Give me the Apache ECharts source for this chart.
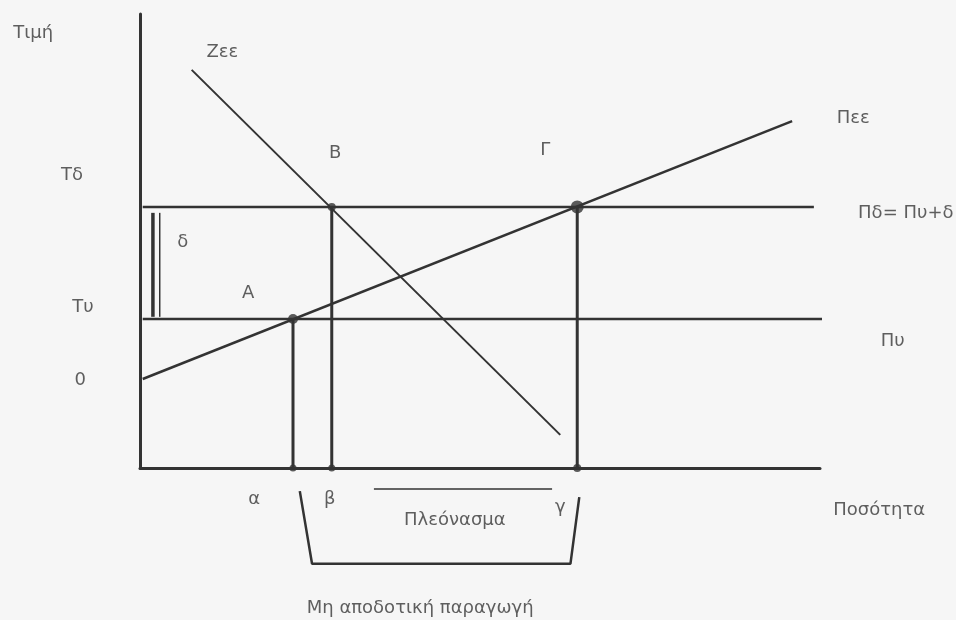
<!DOCTYPE html>
<html>
<head>
<meta charset="utf-8">
<script src="https://cdn.jsdelivr.net/npm/echarts@6/dist/echarts.min.js"></script>
<style>
  html, body { margin: 0; padding: 0; background: #f6f6f6; }
  #chart { width: 956px; height: 620px; }
</style>
</head>
<body>
<div id="chart"></div>
<script>
// ποσότητα (x) και τιμή (y), σε μονάδες 0..100 του διαγράμματος
const supplyLine = [[0.4, 19.6], [95.9, 76.4]]        // Πεε
const demandLine = [[7.6, 87.7], [61.8, 7.3]]         // Ζεε
const priceHigh = 57.5                                // Τδ
const priceLow = 32.8                                 // Τυ
const highEnd = [0.4, 99.1]                           // Πδ
const lowEnd = [0.4, 103.2]                           // Πυ
const qAlpha = 22.5
const qBeta = 28.2
const qGamma = 64.3
const deltaBar = [[1.9, 56.2], [1.9, 33.3]]
const deltaBar2 = [[2.9, 56.2], [2.9, 33.3]]
const surplusLine = [[34.4, -4.6], [60.6, -4.6]]
const wasteBracket = [[23.5, -5.1], [25.3, -21.1], [63.3, -21.1], [64.6, -6.4]]

const labelText = ['Τιμή', 'Ζεε', 'Β', 'Γ', 'Πεε', 'Πδ= Πυ+δ', 'Τδ', 'δ', 'Α', 'Τυ', 'Πυ', '0',
  'α', 'β', 'Πλεόνασμα', 'γ', 'Ποσότητα', 'Μη αποδοτική παραγωγή']
const labelPos = [[-15.7, 95.8], [12.1, 91.6], [28.7, 69.4], [59.6, 70.0], [104.9, 77.1],
  [105.6, 58.1], [-10.0, 64.5], [6.3, 49.8], [15.9, 38.5], [-8.4, 35.5], [110.7, 27.8],
  [-8.8, 19.4], [16.8, -6.8], [27.9, -7.0], [46.3, -11.5], [61.8, -8.6], [108.7, -9.3],
  [41.2, -30.8]]
const leftAligned = ['Πδ= Πυ+δ']

const ink = '#333333'
const font = 'DejaVu Sans'

const chart = echarts.init(document.getElementById('chart'))

const seg = (data, width) => ({
  type: 'line',
  data: data,
  clip: false,
  symbol: 'none',
  silent: true,
  lineStyle: { color: ink, width: width },
})

chart.setOption({
  backgroundColor: '#f6f6f6',
  animation: false,
  grid: { left: 140, top: 14, width: 680, height: 454 },
  xAxis: {
    type: 'value', min: 0, max: 100,
    axisLine: { show: true, lineStyle: { color: ink, width: 3 } },
    axisTick: { show: false }, axisLabel: { show: false }, splitLine: { show: false },
  },
  yAxis: {
    type: 'value', min: 0, max: 100,
    axisLine: { show: true, lineStyle: { color: ink, width: 3 } },
    axisTick: { show: false }, axisLabel: { show: false }, splitLine: { show: false },
  },
  series: [
    seg(supplyLine, 2.5),
    seg(demandLine, 2),
    seg([[highEnd[0], priceHigh], [highEnd[1], priceHigh]], 2.5),
    seg([[lowEnd[0], priceLow], [lowEnd[1], priceLow]], 2.5),
    seg([[qAlpha, 0], [qAlpha, priceLow]], 3),
    seg([[qBeta, 0], [qBeta, priceHigh]], 3),
    seg([[qGamma, 0], [qGamma, priceHigh]], 3),
    seg(deltaBar, 3.5),
    seg(deltaBar2, 1.5),
    seg(surplusLine, 1.5),
    seg(wasteBracket, 2.5),
    {
      type: 'scatter',
      clip: false,
      silent: true,
      symbol: 'circle',
      itemStyle: { color: ink },
      data: [
        { value: [qAlpha, priceLow], symbolSize: 10 },
        { value: [qBeta, priceHigh], symbolSize: 8 },
        { value: [qGamma, priceHigh], symbolSize: 13 },
        { value: [qAlpha, 0], symbolSize: 7 },
        { value: [qBeta, 0], symbolSize: 7 },
        { value: [qGamma, 0], symbolSize: 8 },
      ],
    },
    {
      type: 'scatter',
      clip: false,
      silent: true,
      symbolSize: 0,
      data: labelText.map((t, i) => ({ value: labelPos[i], name: t })),
      label: {
        show: true,
        position: 'inside',
        formatter: (p) => p.name,
        color: '#383838',
        fontFamily: font,
        fontSize: 18,
      },
      labelLayout: (p) => {
        const t = labelText[p.dataIndex]
        if (leftAligned.includes(t)) {
          return { x: p.rect.x, align: 'left' }
        }
        return {}
      },
    },
  ],
})
</script>
</body>
</html>
